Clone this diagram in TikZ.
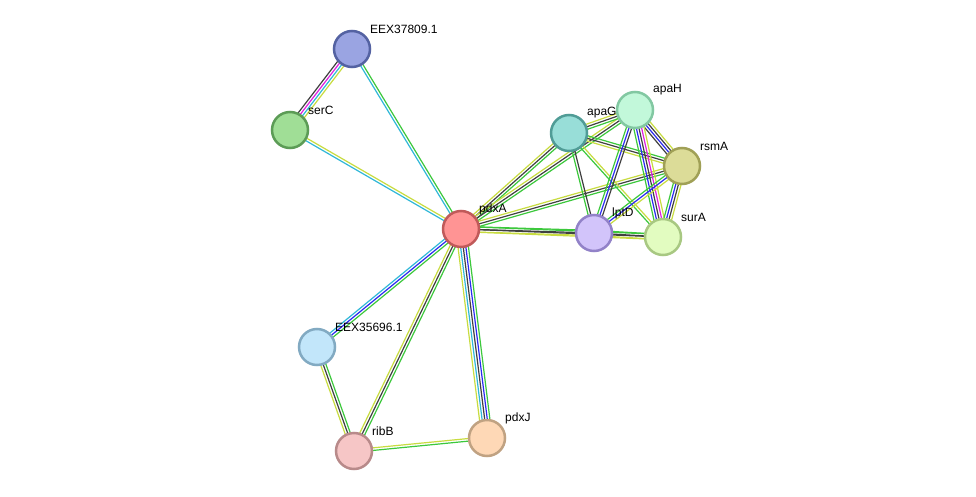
\documentclass[tikz,border=0pt]{standalone}
\usepackage{fontspec}
\setmainfont{Liberation Sans}
\usetikzlibrary{calc,backgrounds}
\definecolor{sgreen}{HTML}{3CC83C}
\definecolor{sblue}{HTML}{2A2AF0}
\definecolor{sblack}{HTML}{404040}
\definecolor{scyan}{HTML}{30B8D8}
\definecolor{smag}{HTML}{E020E0}
\definecolor{syel}{HTML}{C8DC40}
\definecolor{f1}{HTML}{9AA4E2}\definecolor{b1}{HTML}{5462A2}
\definecolor{f2}{HTML}{A0DE96}\definecolor{b2}{HTML}{5C9C56}
\definecolor{f3}{HTML}{FF9494}\definecolor{b3}{HTML}{C05A5A}
\definecolor{f4}{HTML}{98DED8}\definecolor{b4}{HTML}{509C96}
\definecolor{f5}{HTML}{C2F8DA}\definecolor{b5}{HTML}{82C8A2}
\definecolor{f6}{HTML}{DCDC98}\definecolor{b6}{HTML}{A0A056}
\definecolor{f7}{HTML}{D2C4FA}\definecolor{b7}{HTML}{9282C8}
\definecolor{f8}{HTML}{E2FCC0}\definecolor{b8}{HTML}{A8C882}
\definecolor{f9}{HTML}{C2E6FA}\definecolor{b9}{HTML}{82AAC2}
\definecolor{f10}{HTML}{F6C6C6}\definecolor{b10}{HTML}{B88A8A}
\definecolor{f11}{HTML}{FED8B6}\definecolor{b11}{HTML}{C0A282}
\newcommand\sedge[4]{%
  \foreach \cc [count=\i] in {#4}{%
    \pgfmathsetmacro\off{(\i-(#3+1)/2)*2.6}%
    \draw[\cc, line width=1.2pt] ($(#1)!\off pt!90:(#2)$) -- ($(#2)!\off pt!-90:(#1)$);
  }}
\tikzset{
  prot/.style={circle, draw=b#1, fill=f#1, line width=2.5pt, minimum size=36pt, inner sep=0pt},
  lbl/.style={anchor=west, font=\fontsize{12}{14}\selectfont, inner sep=0pt}
}
\begin{document}
\begin{tikzpicture}[x=1pt,y=-1pt]
\useasboundingbox (0,0) rectangle (976,497);
% nodes
\node[prot=1] (eex378) at (352,49) {};
\node[prot=2] (serC) at (290,130) {};
\node[prot=3] (pdxA) at (461,229) {};
\node[prot=4] (apaG) at (569,133) {};
\node[prot=5] (apaH) at (635,110) {};
\node[prot=6] (rsmA) at (682,166) {};
\node[prot=7] (lptD) at (594,233) {};
\node[prot=8] (surA) at (663,237) {};
\node[prot=9] (eex356) at (317,347) {};
\node[prot=10] (ribB) at (354,451) {};
\node[prot=11] (pdxJ) at (487,438) {};
% labels
\node[lbl] (l1) at (370,29) {EEX37809.1};
\node[lbl] (l2) at (308,110) {serC};
\node[lbl] (l3) at (479,209) {pdxA};
\node[lbl] (l4) at (587,113) {apaG};
\node[lbl] (l5) at (653,90) {apaH};
\node[lbl] (l6) at (700,146) {rsmA};
\node[lbl] (l7) at (612,213) {lptD};
\node[lbl] (l8) at (681,217) {surA};
\node[lbl] (l9) at (335,327) {EEX35696.1};
\node[lbl] (l10) at (372,431) {ribB};
\node[lbl] (l11) at (505,418) {pdxJ};
\begin{scope}[on background layer]
\fill[white] (0,0) rectangle (976,497);
\sedge{eex378}{serC}{4}{sblack,smag,scyan,syel}
\sedge{eex378}{pdxA}{2}{scyan,sgreen}
\sedge{serC}{pdxA}{2}{scyan,syel}
\sedge{pdxA}{eex356}{3}{scyan,sblue,sgreen}
\sedge{pdxA}{ribB}{3}{syel,sblack,sgreen}
\sedge{pdxA}{pdxJ}{5}{syel,scyan,sblack,sblue,sgreen}
\sedge{eex356}{ribB}{3}{syel,sblack,sgreen}
\sedge{ribB}{pdxJ}{2}{sgreen,syel}
\sedge{pdxA}{apaG}{3}{sgreen,sblack,syel}
\sedge{pdxA}{apaH}{3}{sgreen,sblack,syel}
\sedge{pdxA}{rsmA}{3}{sgreen,sblack,syel}
\sedge{pdxA}{lptD}{3}{syel,sblack,sgreen}
\sedge{pdxA}{surA}{3}{syel,sblack,sgreen}
\sedge{apaG}{apaH}{3}{sgreen,sblack,syel}
\sedge{apaG}{rsmA}{3}{syel,sblack,sgreen}
\sedge{apaG}{lptD}{2}{sgreen,sblack}
\sedge{apaG}{surA}{2}{sgreen,syel}
\sedge{apaH}{rsmA}{4}{sblack,sblue,sblack,syel}
\sedge{apaH}{lptD}{3}{sgreen,sblue,sblack}
\sedge{apaH}{surA}{5}{sgreen,sblue,sblack,smag,syel}
\sedge{rsmA}{lptD}{3}{sgreen,sblue,syel}
\sedge{rsmA}{surA}{4}{sgreen,sblue,sblack,syel}
\sedge{lptD}{surA}{3}{syel,sblack,sgreen}
\end{scope}
\end{tikzpicture}
\end{document}
